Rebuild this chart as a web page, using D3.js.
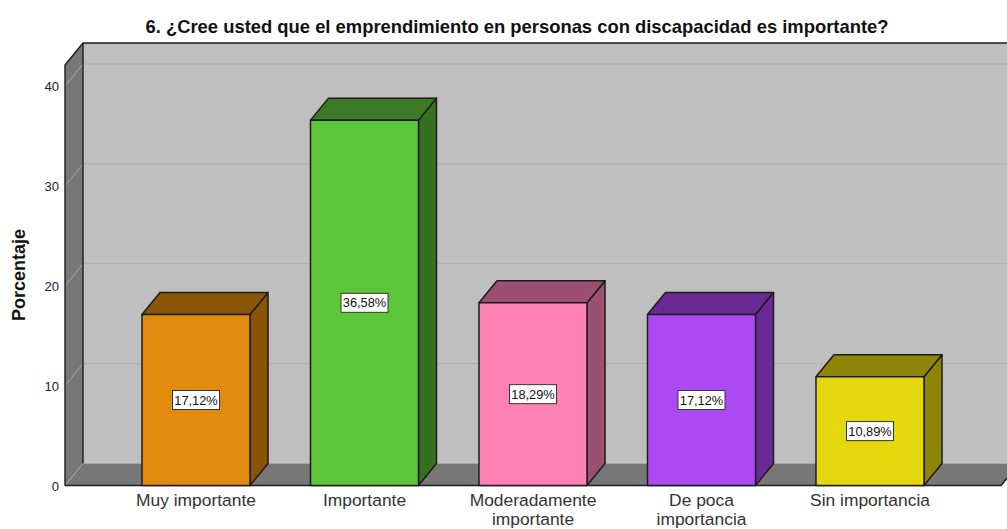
<!DOCTYPE html>
<html><head><meta charset="utf-8">
<style>html,body{margin:0;padding:0;background:#fff;overflow:hidden}svg{display:block}text{font-family:"Liberation Sans",Arial,sans-serif}</style>
<script src="https://cdn.jsdelivr.net/npm/d3@7/dist/d3.min.js"></script>
</head><body><div id="c"></div>
<script>
const categories=[["Muy importante"],["Importante"],["Moderadamente","importante"],["De poca","importancia"],["Sin importancia"]];
const values=[17.12,36.58,18.29,17.12,10.89];
const valueLabels=["17,12%","36,58%","18,29%","17,12%","10,89%"];
const frontColors=["#e08a0e","#5ec639","#ff82b4","#aa4af0","#e5d90e"];
const topColors=["#8c5607","#3d7a25","#9c5070","#692a96","#8c8508"];
const sideColors=["#8a5408","#36701f","#9a5070","#692a96","#8c8508"];
const yTicks=[0,10,20,30,40];
const yTop=42.1;
const W=1007,H=529,dx=18,dy=-22;
const x0=65,x1=1001,y0=485.5;
const y=d3.scaleLinear().domain([0,yTop]).range([y0,65]);
const x=d3.scaleBand().domain(d3.range(values.length)).range([x0,x1]).paddingInner(0.359).paddingOuter(0.457);
const svg=d3.select("#c").append("svg").attr("width",W).attr("height",H);
const line=d3.line();
const poly=(pts,fill,stroke)=>svg.append("path").attr("d",line(pts)+"Z").attr("fill",fill).attr("stroke",stroke||"none").attr("stroke-width",stroke?1.5:0).attr("stroke-linejoin","round");
const T=y(yTop),B=y(0);
// back wall
poly([[x0+dx,T+dy],[W+40,T+dy],[W+40,B+dy],[x0+dx,B+dy]],"#bfbfbf");
// floor
poly([[x0,B],[x1,B],[x1+dx,B+dy],[W+40,B+dy],[x0+dx,B+dy]],"#777777");
// left wall
poly([[x0,T],[x0+dx,T+dy],[x0+dx,B+dy],[x0,B]],"#777777");
// gridlines
const grid=yTicks.filter(d=>d>0);
svg.selectAll(".g").data(grid).join("line").attr("x1",x0+dx).attr("x2",W).attr("y1",d=>y(d)+dy).attr("y2",d=>y(d)+dy).attr("stroke","#adadad").attr("stroke-width",1);
svg.selectAll(".s").data(yTicks).join("line").attr("x1",x0).attr("x2",x0+dx).attr("y1",d=>y(d)).attr("y2",d=>y(d)+dy).attr("stroke","#a8a8a8").attr("stroke-width",1);
// frame
const edge=(pts,w)=>svg.append("path").attr("d",line(pts)).attr("fill","none").attr("stroke","#1c1c1c").attr("stroke-width",w||1.4);
edge([[x0,B],[x0,T],[x0+dx,T+dy],[W+5,T+dy]]);
edge([[x0+dx,T+dy],[x0+dx,B+dy]]);
edge([[x1+dx,B+dy],[x1,B],[x0,B]],1.6);
// bars
values.forEach((v,i)=>{
  const l=x(i),r=l+x.bandwidth(),t=y(v);
  poly([[r,t],[r+dx,t+dy],[r+dx,B+dy],[r,B]],sideColors[i],"#1c1c1c");
  poly([[l,t],[l+dx,t+dy],[r+dx,t+dy],[r,t]],topColors[i],"#1c1c1c");
  poly([[l,t],[r,t],[r,B],[l,B]],frontColors[i],"#1c1c1c");
  const cx=(l+r)/2,cy=(t+B)/2;
  svg.append("rect").attr("x",cx-23.5).attr("y",cy-9.5).attr("width",47).attr("height",19).attr("fill","#fff").attr("stroke","#333").attr("stroke-width",1);
  svg.append("text").attr("x",cx).attr("y",cy+4.5).attr("text-anchor","middle").attr("font-size",12.8).attr("fill","#111").text(valueLabels[i]);
  categories[i].forEach((s,k)=>svg.append("text").attr("x",cx).attr("y",505.8+k*19.5).attr("text-anchor","middle").attr("font-size",17.4).attr("fill","#333").text(s));
});
// y axis labels
svg.selectAll(".t").data(yTicks).join("text").attr("x",59).attr("y",d=>y(d)+5).attr("text-anchor","end").attr("font-size",13).attr("fill","#222").text(d=>d);
svg.append("text").attr("transform","translate(25,275) rotate(-90)").attr("text-anchor","middle").attr("font-size",18).attr("font-weight","bold").attr("fill","#111").text("Porcentaje");
svg.append("text").attr("x",517).attr("y",33).attr("text-anchor","middle").attr("font-size",18.4).attr("font-weight","bold").attr("fill","#111").text("6. ¿Cree usted que el emprendimiento en personas con discapacidad es importante?");
</script></body></html>
